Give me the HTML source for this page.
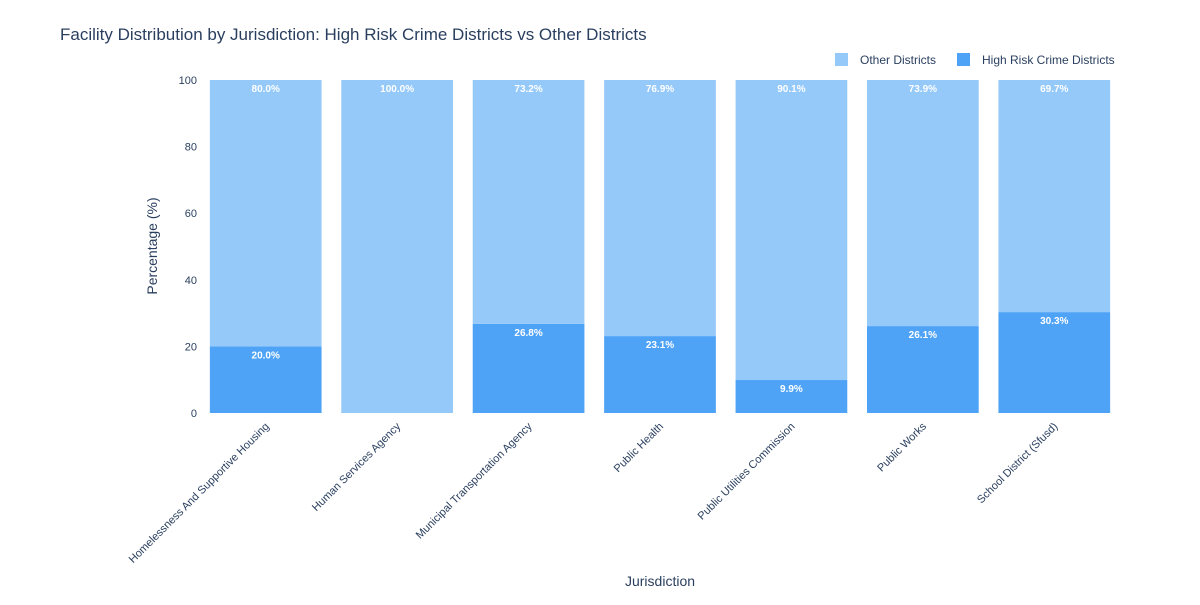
<!DOCTYPE html>
<html><head><meta charset="utf-8"><style>
body{margin:0;background:#fff;font-family:"Liberation Sans",Arial,sans-serif;}
svg text{font-family:"Liberation Sans",Arial,sans-serif;}
</style></head><body>
<svg id="chart" width="1200" height="600" xmlns="http://www.w3.org/2000/svg">
<text x="60" y="40" font-size="17" fill="#2a3f5f">Facility Distribution by Jurisdiction: High Risk Crime Districts vs Other Districts</text>
<g>
<rect x="835" y="53" width="13" height="13" fill="#95C9F9"/>
<text x="860" y="64" font-size="12" fill="#2a3f5f">Other Districts</text>
<rect x="957" y="53" width="13" height="13" fill="#4FA3F7"/>
<text x="982" y="64" font-size="12" fill="#2a3f5f">High Risk Crime Districts</text>
</g>
<text transform="translate(157,246) rotate(-90)" text-anchor="middle" font-size="14" fill="#2a3f5f">Percentage (%)</text>
<text x="660" y="586" text-anchor="middle" font-size="14" fill="#2a3f5f">Jurisdiction</text>
<g id="plot"></g>
</svg>
<script>
const categories = ["Homelessness And Supportive Housing","Human Services Agency","Municipal Transportation Agency","Public Health","Public Utilities Commission","Public Works","School District (Sfusd)"];
const highRisk = [20.0, 0, 26.8, 23.1, 9.9, 26.1, 30.3];
const other = [80.0, 100.0, 73.2, 76.9, 90.1, 73.9, 69.7];
const yTicks = [0, 20, 40, 60, 80, 100];

const NS = "http://www.w3.org/2000/svg";
const plot = document.getElementById("plot");
const X0 = 200, X1 = 1120, Y0 = 413, Y1 = 80;
const band = (X1 - X0) / categories.length;
const bw = band * 0.85;
const y = v => Y0 - (v / 100) * (Y0 - Y1);
const xc = i => X0 + band * (i + 0.5);
function mk(tag, attrs) { const e = document.createElementNS(NS, tag); for (const k in attrs) e.setAttribute(k, attrs[k]); plot.appendChild(e); return e; }

yTicks.forEach(t => {
  const tx = mk("text", {x: X0 - 3, y: y(t) + 4, "text-anchor": "end", "font-size": 11, fill: "#2a3f5f"});
  tx.textContent = t;
  
  
});

categories.forEach((c, i) => {
  const h = highRisk[i], o = other[i];
  const r1 = mk("rect", {x: xc(i) - bw / 2, y: y(h), width: bw, height: Y0 - y(h), fill: "#4FA3F7"});
  
  
  const r2 = mk("rect", {x: xc(i) - bw / 2, y: y(h + o), width: bw, height: y(h) - y(h + o), fill: "#95C9F9"});
  
  
  if (h > 0) {
    const t1 = mk("text", {x: xc(i), y: y(h) + 12, "text-anchor": "middle", "font-size": 10, "font-weight": "bold", fill: "#fff"});
    t1.textContent = h.toFixed(1) + "%";
    
    
  }
  const t2 = mk("text", {x: xc(i), y: y(h + o) + 12, "text-anchor": "middle", "font-size": 10, "font-weight": "bold", fill: "#fff"});
  t2.textContent = o.toFixed(1) + "%";
  
  
  const xl = mk("text", {transform: `translate(${xc(i) + 4},${Y0 + 14}) rotate(-45)`, "text-anchor": "end", "font-size": 11, fill: "#2a3f5f"});
  xl.textContent = c;
  
  
});
</script>
</body></html>
